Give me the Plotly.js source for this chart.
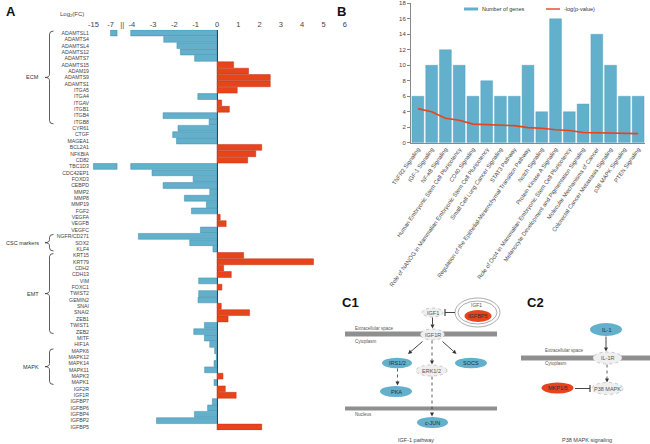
<!DOCTYPE html>
<html>
<head>
<meta charset="utf-8">
<script src="https://cdn.plot.ly/plotly-3.0.1.min.js"></script>
<style>
  html, body { margin: 0; padding: 0; background: #fff; }
  #chart { width: 650px; height: 444px; }
</style>
</head>
<body>
<div id="chart"></div>
<script>
// ---- panel A data: log2 fold change per gene ----
const genes = [
  'ADAMTSL1', 'ADAMTS4', 'ADAMTSL4', 'ADAMTS12', 'ADAMTS7', 'ADAMTS15', 'ADAM19', 'ADAMTS9', 'ADAMTS1',
  'ITGA5', 'ITGA4', 'ITGAV', 'ITGB1', 'ITGB4', 'ITGB8', 'CYR61', 'CTGF', 'MAGEA1', 'BCL2A1', 'NFKBIA', 'CD82',
  'TBC1D3', 'CDC42EP1', 'FOXD3', 'CEBPD', 'MMP2', 'MMP8', 'MMP19', 'FGF2', 'VEGFA', 'VEGFB', 'VEGFC',
  'NGFR/CD271', 'SOX2', 'KLF4', 'KRT15', 'KRT79', 'CDH2', 'CDH13', 'VIM', 'FOXC1', 'TWIST2', 'GEMIN2',
  'SNAI', 'SNAI2', 'ZEB1', 'TWIST1', 'ZEB2', 'MITF', 'HIF1A', 'MAPK6', 'MAPK12', 'MAPK14', 'MAPK11',
  'MAPK3', 'MAPK1', 'IGF2R', 'IGF1R', 'IGFBP7', 'IGFBP6', 'IGFBP4', 'IGFBP2', 'IGFBP5'
];
const logFC = [
  -7, -2.5, -1.88, -1.72, -1.05, 0.78, 1.48, 2.5, 2.5,
  0.95, -0.9, 0.22, 0.58, -2.53, -0.37, -1.83, -2.08, -1.9, 2.1, 1.82, 1.44,
  -15, -3.05, -1.12, -2.53, -0.34, -1.53, -0.5, -1.2, 0.15, 0.43, -0.78,
  -3.69, -1.28, -0.19, 1.25, 4.53, 0.31, 0.67, -0.86, 0.23, -0.86, -0.89,
  0.2, 1.53, 0.52, -0.59, -1.09, -0.59, -0.34, -0.11, -0.03, -0.14, -0.58,
  0.28, -0.14, 0.39, 0.9, -0.22, -0.44, -1.06, -2.84, 2.1
];
const groupNames = ['ECM', 'CSC markers', 'EMT', 'MAPK'];
const groupFirst = ['ADAMTSL1', 'NGFR/CD271', 'KRT15', 'MAPK6'];
const groupLast = ['ITGB8', 'KLF4', 'ZEB2', 'MAPK1'];
const fcTicks = [-15, -7, -4, -3, -2, -1, 0, 1, 2, 3, 4, 5, 6];

// ---- panel B data ----
const pathways = [
  'TNFR2 Signaling', 'IGF-1 Signaling', 'NF-κB Signaling', 'Human Embryonic Stem Cell Pluripotency',
  'CD40 Signaling', 'Role of NANOG in Mammalian Embryonic Stem Cell Pluripotency',
  'Small Cell Lung Cancer Signaling', 'STAT3 Pathway',
  'Regulation of the Epithelial-Mesenchymal Transition Pathway', 'Notch Signaling',
  'Protein Kinase A Signaling', 'Role of Oct4 in Mammalian Embryonic Stem Cell Pluripotency',
  'Melanocyte Development and Pigmentation Signaling', 'Molecular Mechanisms of Cancer',
  'Colorectal Cancer Metastasis Signaling', 'p38 MAPK Signaling', 'PTEN Signaling'
];
const geneCounts = [6, 10, 12, 10, 6, 8, 6, 6, 10, 4, 16, 4, 5, 14, 10, 6, 6];
const negLogP = [4.4, 4.0, 3.15, 2.9, 2.4, 2.33, 2.25, 2.2, 1.95, 1.87, 1.68, 1.58, 1.32, 1.3, 1.22, 1.17, 1.17];

const W = 650, H = 444;
const BLUE = '#62b0cb', BLUE_EDGE = '#3d8aa8', RED = '#e8441c', RED_EDGE = '#b8321a';
const FONT = 'Liberation Sans, Arial, sans-serif';
const TEXT = '#444444';

// broken axis: values below -4 are squeezed into a short segment left of the break
const MAIN_LIMIT = -4.05, TAIL_BASE = -4.69, BREAK_POS = -4.45;
function axisPos(v) {
  if (v >= -4) return v;
  return -5.0 + (v + 7) * 0.1;
}

const idx = genes.map((g, i) => i);
const mainBars = {
  type: 'bar', orientation: 'h', y: idx,
  x: logFC.map(v => Math.max(v, MAIN_LIMIT)),
  marker: {
    color: logFC.map(v => v < 0 ? BLUE : RED),
    line: {color: logFC.map(v => v < 0 ? BLUE_EDGE : RED_EDGE), width: 0.5}
  },
  width: 0.92, xaxis: 'x', yaxis: 'y', showlegend: false, hoverinfo: 'skip'
};
const tailBars = {
  type: 'bar', orientation: 'h', y: idx,
  base: TAIL_BASE,
  x: logFC.map(v => v < MAIN_LIMIT ? axisPos(v) - TAIL_BASE : null),
  marker: {color: BLUE, line: {color: BLUE_EDGE, width: 0.5}},
  width: 0.92, xaxis: 'x', yaxis: 'y', showlegend: false, hoverinfo: 'skip'
};

const countBars = {
  type: 'bar', x: pathways, y: geneCounts, name: 'Number of genes',
  marker: {color: BLUE, line: {color: '#4c9cba', width: 0.4}},
  width: 0.86, xaxis: 'x2', yaxis: 'y2', showlegend: false
};
const pLine = {
  type: 'scatter', mode: 'lines', x: pathways, y: negLogP, name: '-log(p-value)',
  line: {color: RED, width: 1.6}, xaxis: 'x2', yaxis: 'y2', showlegend: false
};

// helpers in pixel space -> paper space
const px = x => x / W;
const py = y => 1 - y / H;
const shapes = [];
const annotations = [];

function text(x, y, t, size, opts) {
  opts = opts || {};
  annotations.push({
    xref: 'paper', yref: 'paper', x: px(x), y: py(y), text: t, showarrow: false,
    xanchor: opts.anchor || 'center', yanchor: 'middle',
    font: {family: FONT, size: size, color: opts.color || '#333'}
  });
}
function ellipse(cx, cy, w, h, fill, line) {
  shapes.push({
    type: 'circle', xref: 'paper', yref: 'paper',
    x0: px(cx - w / 2), x1: px(cx + w / 2), y0: py(cy + h / 2), y1: py(cy - h / 2),
    fillcolor: fill, line: line || {width: 0}
  });
}
function seg(x0, y0, x1, y1, color, width, dash) {
  shapes.push({
    type: 'line', xref: 'paper', yref: 'paper',
    x0: px(x0), y0: py(y0), x1: px(x1), y1: py(y1),
    line: {color: color, width: width, dash: dash || 'solid'}
  });
}
function band(x0, x1, y0, y1) {
  shapes.push({
    type: 'rect', xref: 'paper', yref: 'paper',
    x0: px(x0), x1: px(x1), y0: py(y1), y1: py(y0),
    fillcolor: '#8f8f8f', line: {width: 0}
  });
}
function arrow(x0, y0, x1, y1, dashed) {
  const len = Math.hypot(x1 - x0, y1 - y0);
  const ux = (x1 - x0) / len, uy = (y1 - y0) / len;
  const bx = x1 - ux * 4, by = y1 - uy * 4;
  seg(x0, y0, bx, by, '#333', dashed ? 0.8 : 0.9, dashed ? 'dot' : 'solid');
  const pts = [[x1, y1], [bx - uy * 2, by + ux * 2], [bx + uy * 2, by - ux * 2]];
  shapes.push({
    type: 'path', xref: 'paper', yref: 'paper',
    path: 'M' + pts.map(p => px(p[0]) + ',' + py(p[1])).join(' L') + ' Z',
    fillcolor: '#333', line: {width: 0}
  });
}
function inhibit(x0, y0, x1, y1) {
  seg(x0, y0, x1, y1, '#333', 0.9);
  seg(x1, y1 - 3.5, x1, y1 + 3.5, '#333', 1.1);
}
const GRAY_NODE = ['#efefef', {color: '#a8a8a8', width: 0.6, dash: 'dot'}];
function node(label, cx, cy, w, h, kind) {
  if (kind === 'gray') ellipse(cx, cy, w, h, GRAY_NODE[0], GRAY_NODE[1]);
  else ellipse(cx, cy, w, h, kind === 'red' ? RED : BLUE);
  text(cx, cy, label, 5.5, {color: kind === 'gray' ? '#555' : '#1f2f38'});
}

// ---- panel A decorations: group braces ----
groupNames.forEach((name, k) => {
  const y0 = genes.indexOf(groupFirst[k]) - 0.3;
  const y1 = genes.indexOf(groupLast[k]) + 0.3;
  const ym = (y0 + y1) / 2;
  const hx = px(53.5), lx = px(49.5), tx = px(45);
  shapes.push({
    type: 'path', xref: 'paper', yref: 'y',
    path: `M${hx},${y0} Q${lx},${y0} ${lx},${y0 + 0.5} L${lx},${ym - 0.5} Q${lx},${ym} ${tx},${ym}` +
          ` Q${lx},${ym} ${lx},${ym + 0.5} L${lx},${y1 - 0.5} Q${lx},${y1} ${hx},${y1}`,
    line: {color: '#333', width: 0.8}
  });
  annotations.push({
    xref: 'paper', yref: 'y', x: px(41), y: ym, text: name, showarrow: false,
    xanchor: 'right', yanchor: 'middle', font: {family: FONT, size: 5.5, color: '#333'}
  });
});
text(72, 15, 'Log<sub>2</sub>(FC)', 6, {color: TEXT});
text(11, 12, '<b>A</b>', 13, {color: '#111'});
text(341, 12, '<b>B</b>', 13, {color: '#111'});

// ---- panel B legend ----
shapes.push({type: 'rect', xref: 'paper', yref: 'paper', x0: px(464), x1: px(478), y0: py(10.5), y1: py(7.5),
  fillcolor: BLUE, line: {width: 0}});
text(480, 9, 'Number of genes', 5.5, {anchor: 'left'});
seg(546, 9, 560, 9, RED, 1.4);
text(562, 9, '-log(p-value)', 5.5, {anchor: 'left'});

// ---- panel C1: IGF-1 pathway ----
text(350, 302, '<b>C1</b>', 13, {color: '#111'});
band(345, 497, 331.5, 336.5);
band(345, 497, 406.5, 410.5);
text(353, 328, 'Extracellular space', 4.5, {anchor: 'left', color: '#555'});
text(353, 341.5, 'Cytoplasm', 4.5, {anchor: 'left', color: '#555'});
text(353, 414, 'Nucleus', 4.5, {anchor: 'left', color: '#555'});
ellipse(477.5, 312.5, 45, 29, '#ffffff', {color: '#888', width: 0.7});
ellipse(477.5, 312.5, 39, 23, '#ffffff', {color: '#888', width: 0.7});
text(476, 304.5, 'IGF1', 5, {color: '#555'});
node('IGFBP5', 478, 316, 27, 12, 'red');
node('IGF1', 432.5, 312.5, 21, 9, 'gray');
inhibit(455, 312.5, 445, 312.5);
arrow(432.5, 317.5, 432.5, 328.5);
node('IGF1R', 432.5, 334.5, 24, 11, 'gray');
arrow(422.5, 341.5, 408, 354);
arrow(442.5, 341.5, 456.5, 354);
arrow(432, 340.5, 432, 364.5, true);
node('IRS1/2', 397, 363, 30, 10.5, 'blue');
node('ERK1/2', 431.5, 370.5, 31, 11, 'gray');
node('SOCS', 471, 363, 32, 10.5, 'blue');
arrow(397.5, 368.5, 397.5, 385.5, true);
node('PKA', 396, 391.5, 32, 11, 'blue');
arrow(432, 376.5, 432, 416.5, true);
node('c-JUN', 432.5, 422.5, 31, 11, 'blue');
text(416, 440, 'IGF-1 pathway', 5.5, {color: TEXT});

// ---- panel C2: P38 MAPK signaling ----
text(535, 302, '<b>C2</b>', 13, {color: '#111'});
band(521, 650, 355.5, 360.5);
text(543, 350.5, 'Extracellular space', 4.5, {anchor: 'left', color: '#555'});
text(543, 363.5, 'Cytoplasm', 4.5, {anchor: 'left', color: '#555'});
node('IL-1', 606, 329.5, 32, 13, 'blue');
arrow(606, 336.5, 606, 351.5);
node('IL-1R', 607.5, 358, 29, 12, 'gray');
arrow(607, 364.5, 607, 382.5, true);
node('P38 MAPK', 607.5, 388.5, 31, 12, 'gray');
node('MKP1/5', 557.5, 388, 32, 11, 'red');
inhibit(575, 388.5, 590, 388.5);
text(587, 440, 'P38 MAPK signaling', 5.5, {color: TEXT});

const layout = {
  width: W, height: H,
  margin: {l: 0, r: 0, t: 0, b: 0},
  paper_bgcolor: '#fff', plot_bgcolor: '#fff',
  font: {family: FONT, color: TEXT},
  barmode: 'overlay',
  showlegend: false,
  xaxis: {
    domain: [px(90), px(350)], range: [-5.962, 6.244], side: 'top',
    tickmode: 'array',
    tickvals: fcTicks.map(axisPos).concat([BREAK_POS]),
    ticktext: fcTicks.map(String).concat(['||']),
    tickfont: {family: FONT, size: 7.5, color: TEXT},
    showgrid: false, showline: false, ticks: '',
    zeroline: true, zerolinecolor: '#333', zerolinewidth: 1, anchor: 'y', fixedrange: true
  },
  yaxis: {
    domain: [py(430.2), py(29.8)], range: [genes.length - 0.5, -0.5],
    tickmode: 'array', tickvals: idx, ticktext: genes,
    tickfont: {family: FONT, size: 5.2, color: TEXT},
    showgrid: false, showline: false, zeroline: false, ticks: '', anchor: 'x'
  },
  xaxis2: {
    domain: [px(411), px(645)], anchor: 'y2', tickangle: -55,
    tickfont: {family: FONT, size: 5.8, color: TEXT},
    showline: true, linecolor: '#888', linewidth: 1, ticks: '', showgrid: false
  },
  yaxis2: {
    domain: [py(142.7), py(3.3)], anchor: 'x2', range: [0, 18], dtick: 2,
    tickfont: {family: FONT, size: 6, color: TEXT},
    showline: true, linecolor: '#888', linewidth: 1, ticks: 'outside', ticklen: 3,
    tickcolor: '#888', showgrid: false, zeroline: false
  },
  shapes: shapes,
  annotations: annotations
};

Plotly.newPlot('chart', [mainBars, tailBars, countBars, pLine], layout,
  {displayModeBar: false, staticPlot: true});
</script>
</body>
</html>
